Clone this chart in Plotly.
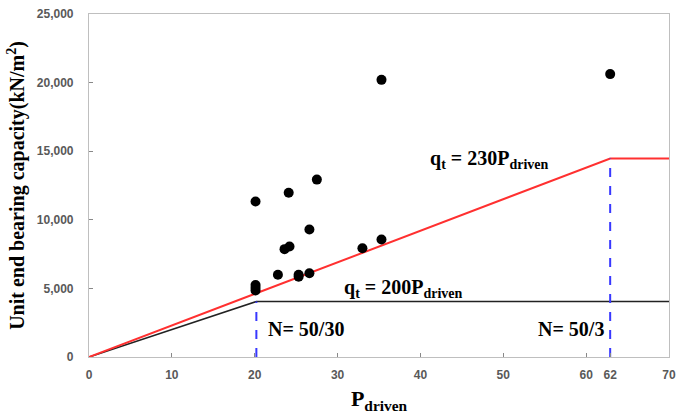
import plotly.graph_objects as go

# Measured data points (P_driven, unit end bearing capacity kN/m2)
p_obs = [20.1, 20.1, 20.1, 20.1, 22.8, 23.6, 24.2, 24.1, 25.3, 25.3, 26.6, 26.6, 27.5, 33.0, 35.3, 35.3, 62.9]
q_obs = [11340, 5250, 5050, 4850, 6000, 7860, 8050, 11976, 6000, 5850, 6100, 9290, 12930, 7930, 8570, 20200, 20620]

# Design lines
p_200 = [0, 20.2, 70]
q_200 = [0, 4040, 4040]
p_230 = [0, 62.9, 70]
q_230 = [0, 14467, 14467]

# Limit (N) lines
p_lim1 = [20.2, 20.2]
q_lim1 = [0, 4040]
p_lim2 = [62.9, 62.9]
q_lim2 = [0, 14467]

x_tickvals = [0, 10, 20, 30, 40, 50, 60, 62.9, 70]
x_ticktext = ["0", "10", "20", "30", "40", "50", "60", "62", "70"]
y_tickvals = [0, 5000, 10000, 15000, 20000, 25000]
y_ticktext = ["0", "5,000", "10,000", "15,000", "20,000", "25,000"]

serif = "Liberation Serif, Times New Roman, serif"
sans = "Liberation Sans, Arial, sans-serif"

fig = go.Figure()
fig.add_trace(go.Scatter(x=p_200, y=q_200, mode="lines", line=dict(color="#222222", width=1.6), showlegend=False))
fig.add_trace(go.Scatter(x=p_230, y=q_230, mode="lines", line=dict(color="#FF3030", width=2), showlegend=False))
fig.add_trace(go.Scatter(x=p_lim1, y=q_lim1, mode="lines", line=dict(color="#3838FF", width=2, dash="dash"), showlegend=False))
fig.add_trace(go.Scatter(x=p_lim2, y=q_lim2, mode="lines", line=dict(color="#3838FF", width=2, dash="dash"), showlegend=False))
fig.add_trace(go.Scatter(x=p_obs, y=q_obs, mode="markers", marker=dict(color="black", size=10), showlegend=False))

ann_font = dict(family=serif, size=20, color="black")
annotations = [
    dict(x=48.3, y=14430, text="<b>q<sub>t</sub> = 230P<sub>driven</sub></b>"),
    dict(x=37.9, y=5000, text="<b>q<sub>t</sub> = 200P<sub>driven</sub></b>"),
    dict(x=26.2, y=2070, text="<b>N= 50/30</b>"),
    dict(x=58.2, y=2070, text="<b>N= 50/3</b>"),
]
for a in annotations:
    a.update(xref="x", yref="y", showarrow=False, font=ann_font)

fig.update_layout(
    width=684, height=417,
    margin=dict(l=89, r=15, t=7, b=60),
    plot_bgcolor="white", paper_bgcolor="white",
    annotations=annotations,
    xaxis=dict(
        range=[0, 70], tickvals=x_tickvals, ticktext=x_ticktext,
        showgrid=False, zeroline=False, showline=True, linecolor="#BFBFBF", linewidth=1.2, mirror=True,
        ticks="inside", ticklen=4, tickcolor="#888888", ticklabelstandoff=6,
        tickfont=dict(family=sans, size=12, color="#595959", weight="bold"),
        title=dict(text="<b>P<sub>driven</sub></b>", font=dict(family=serif, size=22, color="black"), standoff=10),
    ),
    yaxis=dict(
        range=[0, 25000], tickvals=y_tickvals, ticktext=y_ticktext,
        showgrid=False, zeroline=False, showline=True, linecolor="#BFBFBF", linewidth=1.2, mirror=True,
        ticks="inside", ticklen=4, tickcolor="#888888", ticklabelstandoff=12,
        tickfont=dict(family=sans, size=12, color="#595959", weight="bold"),
        title=dict(text="<b>Unit end bearing capacity(kN/m<sup>2</sup>)</b>", font=dict(family=serif, size=20, color="black"), standoff=6),
    ),
)

fig.write_html("out.html")
